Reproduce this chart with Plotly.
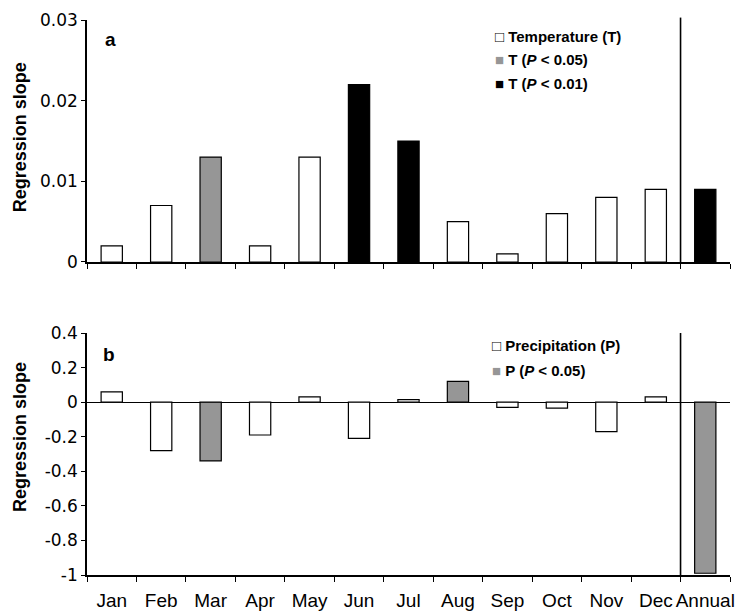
import plotly.graph_objects as go

# Categories (12 months + annual)
months = ["Jan", "Feb", "Mar", "Apr", "May", "Jun", "Jul", "Aug", "Sep", "Oct", "Nov", "Dec", "Annual"]

# Regression slopes of temperature (panel a)
temp_slope = [0.002, 0.007, 0.013, 0.002, 0.013, 0.022, 0.015, 0.005, 0.001, 0.006, 0.008, 0.009, 0.009]
# Significance level: 0 = n.s., 1 = P < 0.05, 2 = P < 0.01
temp_sig = [0, 0, 1, 0, 0, 2, 2, 0, 0, 0, 0, 0, 2]

# Regression slopes of precipitation (panel b)
prec_slope = [0.06, -0.28, -0.34, -0.19, 0.03, -0.21, 0.015, 0.12, -0.03, -0.035, -0.17, 0.03, -0.99]
prec_sig = [0, 0, 1, 0, 0, 0, 0, 1, 0, 0, 0, 0, 1]

# Y-axis ticks
temp_ticks = [0, 0.01, 0.02, 0.03]
temp_ticktext = ["0", "0.01", "0.02", "0.03"]
prec_ticks = [-1, -0.8, -0.6, -0.4, -0.2, 0, 0.2, 0.4]
prec_ticktext = ["-1", "-0.8", "-0.6", "-0.4", "-0.2", "0", "0.2", "0.4"]

# Legend labels per panel
temp_legend = ["Temperature (T)", "T (<i>P</i> &lt; 0.05)", "T (<i>P</i> &lt; 0.01)"]
prec_legend = ["Precipitation (P)", "P (<i>P</i> &lt; 0.05)"]

sig_colors = ["#ffffff", "#969696", "#000000"]
sig_keys = ["\u25a1", "<span style='color:#969696'>\u25a0</span>", "\u25a0"]

ARIAL = "Arial, 'Liberation Sans', sans-serif"
TICKFONT = "'DejaVu Sans', Arial, sans-serif"

fig = go.Figure()

fig.add_trace(go.Bar(
    x=months, y=temp_slope, xaxis="x", yaxis="y",
    marker=dict(color=[sig_colors[s] for s in temp_sig], line=dict(color="black", width=1.2)),
    showlegend=False,
))
fig.add_trace(go.Bar(
    x=months, y=prec_slope, xaxis="x2", yaxis="y2",
    marker=dict(color=[sig_colors[s] for s in prec_sig], line=dict(color="black", width=1.2)),
    showlegend=False,
))

xcommon = dict(
    type="category", categoryorder="array", categoryarray=months,
    tickson="boundaries", ticks="outside", ticklen=5, tickwidth=1.2, tickcolor="black",
    showline=True, linecolor="black", linewidth=1.6, showgrid=False, zeroline=False,
    range=[-0.5, len(months) - 0.5], fixedrange=True, tickangle=0, automargin=False,
)
ycommon = dict(
    ticks="outside", ticklen=4, tickwidth=1.2, tickcolor="black",
    showline=True, linecolor="black", linewidth=1.6, showgrid=False, automargin=False,
    tickfont=dict(family=TICKFONT, size=17, color="black"),
)

fig.update_layout(
    width=748, height=613,
    margin=dict(l=87, r=18, t=20, b=38),
    paper_bgcolor="white", plot_bgcolor="white",
    bargap=0.57, barmode="group",
    showlegend=False,
    font=dict(family=ARIAL, color="black"),
    xaxis=dict(**xcommon, anchor="y", showticklabels=False),
    yaxis=dict(**ycommon, domain=[0.564, 1], anchor="x", range=[0, 0.03],
               tickvals=temp_ticks, ticktext=temp_ticktext, zeroline=False),
    xaxis2=dict(**xcommon, anchor="y2", showticklabels=True, ticklabelstandoff=7,
                tickfont=dict(family=ARIAL, size=19, color="black")),
    yaxis2=dict(**ycommon, domain=[0, 0.436], anchor="x2", range=[-1, 0.4],
                tickvals=prec_ticks, ticktext=prec_ticktext,
                zeroline=True, zerolinecolor="black", zerolinewidth=1.2),
)

# Separator between monthly and annual bars
sep = len(months) - 1.5
fig.add_shape(type="line", xref="x", yref="y domain", x0=sep, x1=sep, y0=0, y1=1.01,
              line=dict(color="black", width=1.6))
fig.add_shape(type="line", xref="x2", yref="y2 domain", x0=sep, x1=sep, y0=0, y1=1.0,
              line=dict(color="black", width=1.6))

# Y-axis titles
for ycen in (0.789, 0.249):
    fig.add_annotation(text="Regression slope", xref="paper", yref="paper",
                       x=-0.104, y=ycen, xanchor="center", yanchor="middle",
                       textangle=-90, showarrow=False,
                       font=dict(family=ARIAL, size=18, weight="bold", color="black"))

# Panel letters
for letter, px, py in (("a", 0.0373, 0.964), ("b", 0.0342, 0.398)):
    fig.add_annotation(text=letter, xref="paper", yref="paper", x=px, y=py,
                       xanchor="center", yanchor="middle", showarrow=False,
                       font=dict(family=ARIAL, size=19, weight="bold", color="black"))

# Legend entries
for i, (label, ypos) in enumerate(zip(temp_legend, (0.971, 0.928, 0.885))):
    fig.add_annotation(text=f"{sig_keys[i]} {label}", xref="paper", yref="paper",
                       x=0.631, y=ypos, xanchor="left", yanchor="middle", showarrow=False,
                       font=dict(family=ARIAL, size=15, weight="bold", color="black"))
for i, (label, ypos) in enumerate(zip(prec_legend, (0.414, 0.369))):
    fig.add_annotation(text=f"{sig_keys[i]} {label}", xref="paper", yref="paper",
                       x=0.627, y=ypos, xanchor="left", yanchor="middle", showarrow=False,
                       font=dict(family=ARIAL, size=15, weight="bold", color="black"))

fig.write_html("out.html")
